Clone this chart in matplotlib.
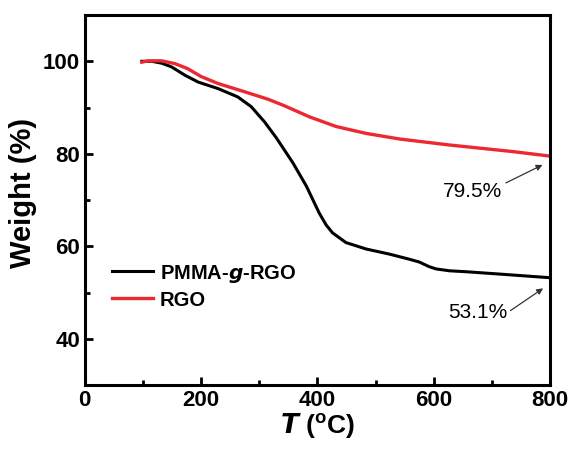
import numpy as np
import matplotlib.pyplot as plt

plt.rcParams['font.family'] = ['Liberation Sans', 'DejaVu Sans']

# TGA curves
temp_pmma = [98, 115, 132, 149, 172, 195, 229, 263, 286, 309, 329, 358, 381, 403, 415,
             426, 449, 484, 524, 558, 575, 592, 604, 627, 655, 712, 800]
weight_pmma = [100.0, 100.0, 99.6, 98.8, 97.0, 95.5, 94.1, 92.3, 90.2, 86.9, 83.5, 78.0, 73.0,
               67.2, 64.6, 62.9, 60.8, 59.4, 58.3, 57.2, 56.6, 55.6, 55.1, 54.7, 54.5, 54.0, 53.2]
temp_rgo = [98, 109, 132, 155, 177, 200, 229, 275, 315, 343, 386, 432, 484, 541, 627, 734, 800]
weight_rgo = [99.8, 100.1, 100.1, 99.5, 98.4, 96.7, 95.2, 93.4, 91.8, 90.4, 88.0, 85.9, 84.4,
              83.2, 81.9, 80.5, 79.5]

# residue annotations: label, text position, arrow tail, arrow head
notes = [('79.5%', (667, 71.9), (724, 73.7), (787, 77.6)),
         ('53.1%', (675, 45.7), (732, 46.1), (788, 50.9))]

fig = plt.figure(figsize=(5.73, 4.49), dpi=100)
ax = fig.add_axes([0.148, 0.1425, 0.812, 0.824])

ax.plot(temp_pmma, weight_pmma, color='black', lw=2.2, label='PMMA-$\\mathbfit{g}$-RGO')
ax.plot(temp_rgo, weight_rgo, color='#ec2830', lw=2.4, label='RGO')

ax.set_xlim(0, 800)
ax.set_ylim(30, 110)
ax.set_xticks([0, 200, 400, 600, 800])
ax.set_xticks([100, 300, 500, 700], minor=True)
ax.set_yticks([40, 60, 80, 100])
ax.set_yticks([50, 70, 90], minor=True)
ax.tick_params(which='both', direction='in', width=2, labelsize=16)
ax.tick_params(which='major', length=6)
ax.tick_params(which='minor', length=3.5)
for lbl in ax.get_xticklabels() + ax.get_yticklabels():
    lbl.set_fontweight('bold')
for sp in ax.spines.values():
    sp.set_linewidth(2.2)

ax.set_xlabel('$\\mathbfit{T}$ ($\\mathregular{^o}$C)', fontsize=19, fontweight='bold', labelpad=0)
ax.set_ylabel('Weight (%)', fontsize=21, fontweight='bold')
ax.yaxis.set_label_coords(-0.102, 0.52)

leg = ax.legend(loc='lower left', bbox_to_anchor=(0.02, 0.155), frameon=False,
                prop={'weight': 'bold', 'size': 14.5}, handlelength=2.0, labelspacing=0.3,
                handletextpad=0.35)

for label, txt_pos, tail, head in notes:
    ax.text(txt_pos[0], txt_pos[1], label, fontsize=15, ha='center', va='center')
    ax.annotate('', xy=head, xytext=tail,
                arrowprops=dict(arrowstyle='-|>', color='#333333', lw=0.9, shrinkA=0, shrinkB=0,
                                mutation_scale=9))

fig.savefig('out.png', dpi=100)
